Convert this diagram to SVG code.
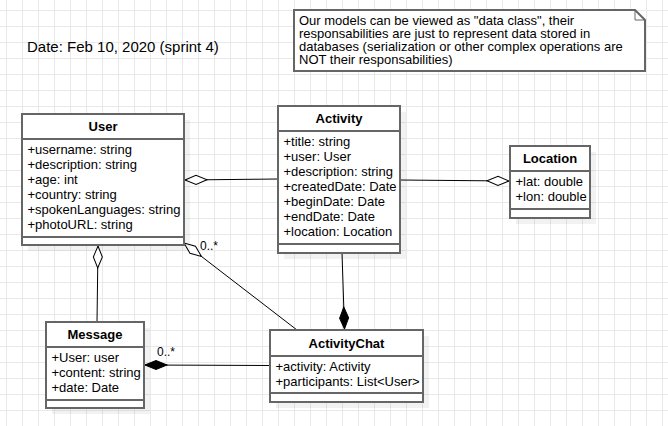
<svg xmlns="http://www.w3.org/2000/svg" width="668" height="426" viewBox="0 0 668 426">
<style>
.box{fill:#fff;stroke:#666;stroke-width:2}
.sh{fill:#000;fill-opacity:0.05}
.div{stroke:#666;stroke-width:2;fill:none}
.t{font-family:"Liberation Sans",Arial,sans-serif;font-size:13px;fill:#000}
.h{font-family:"Liberation Sans",Arial,sans-serif;font-size:13px;font-weight:bold;fill:#000;text-anchor:middle}
.lbl{font-family:"Liberation Sans",Arial,sans-serif;font-size:12px;fill:#000}
.edge{stroke:#000;stroke-width:1;fill:none}
.agg{marker-start:url(#hollow)}
.comp{marker-start:url(#filled)}
</style>
<defs>
<pattern id="grid" x="6" y="10" width="16" height="16" patternUnits="userSpaceOnUse">
<path d="M0 0.5H16M0.5 0V16" stroke="#e9e9e9" stroke-width="1" fill="none"/>
</pattern>
<marker id="hollow" markerUnits="userSpaceOnUse" viewBox="-1 -1 24 12" refX="0" refY="5" markerWidth="24" markerHeight="12" orient="auto" overflow="visible">
<path d="M0,5 L11,0.5 L22,5 L11,9.5 Z" fill="#fff" stroke="#000" stroke-width="1"/>
</marker>
<marker id="filled" markerUnits="userSpaceOnUse" viewBox="-1 -1 24 12" refX="0" refY="5" markerWidth="24" markerHeight="12" orient="auto" overflow="visible">
<path d="M0,5 L11,0.5 L22,5 L11,9.5 Z" fill="#000" stroke="#000" stroke-width="1"/>
</marker>
</defs>
<rect width="668" height="426" fill="#fff"/>
<rect width="668" height="426" fill="url(#grid)"/>

<text class="t" x="27" y="51.5" style="font-size:15px">Date: Feb 10, 2020 (sprint 4)</text>

<g id="note">
<path d="M294,10 H635 L645,20 V71 H294 Z" class="box"/>
<path d="M635,10 V20 H645" class="div" style="stroke-width:1"/>
<text class="t" x="299" y="25">Our models can be viewed as "data class", their</text>
<text class="t" x="299" y="38">responsabilities are just to represent data stored in</text>
<text class="t" x="299" y="51">databases (serialization or other complex operations are</text>
<text class="t" x="299" y="64">NOT their responsabilities)</text>
</g>

<g id="connectors">
<path class="edge agg" d="M185,180 L278,179"/>
<path class="edge agg" d="M509,181 L400,180"/>
<path class="edge agg" d="M98,246 L97,322"/>
<path class="edge agg" d="M184,243 L297,330"/>
<path class="edge comp" d="M344.5,329 L342,253"/>
<path class="edge comp" d="M145,365 L270,365.5"/>
<text class="lbl" x="200" y="249.5">0..*</text>
<text class="lbl" x="157" y="356">0..*</text>
</g>

<g id="User">
<rect class="sh" x="28" y="120" width="162" height="131"/>
<rect class="box" x="22" y="114" width="162" height="131"/>
<path class="div" d="M22,139 H184 M22,237 H184"/>
<text class="h" x="103" y="131">User</text>
<text class="t" x="27.5" y="154">+username: string</text>
<text class="t" x="27.5" y="169">+description: string</text>
<text class="t" x="27.5" y="184">+age: int</text>
<text class="t" x="27.5" y="199">+country: string</text>
<text class="t" x="27.5" y="214">+spokenLanguages: string</text>
<text class="t" x="27.5" y="229">+photoURL: string</text>
</g>

<g id="Activity">
<rect class="sh" x="284" y="112" width="122" height="147"/>
<rect class="box" x="278" y="106" width="122" height="147"/>
<path class="div" d="M278,131 H400 M278,244 H400"/>
<text class="h" x="339" y="123">Activity</text>
<text class="t" x="283.5" y="146">+title: string</text>
<text class="t" x="283.5" y="161">+user: User</text>
<text class="t" x="283.5" y="176">+description: string</text>
<text class="t" x="283.5" y="191">+createdDate: Date</text>
<text class="t" x="283.5" y="206">+beginDate: Date</text>
<text class="t" x="283.5" y="221">+endDate: Date</text>
<text class="t" x="283.5" y="236">+location: Location</text>
</g>

<g id="Location">
<rect class="sh" x="516" y="152" width="80" height="72"/>
<rect class="box" x="510" y="146" width="80" height="72"/>
<path class="div" d="M510,171 H590 M510,209 H590"/>
<text class="h" x="550" y="163">Location</text>
<text class="t" x="515.5" y="186">+lat: double</text>
<text class="t" x="515.5" y="201">+lon: double</text>
</g>

<g id="Message">
<rect class="sh" x="52" y="328" width="98" height="86"/>
<rect class="box" x="46" y="322" width="98" height="86"/>
<path class="div" d="M46,347 H144 M46,400 H144"/>
<text class="h" x="95" y="339">Message</text>
<text class="t" x="51.5" y="362">+User: user</text>
<text class="t" x="51.5" y="377">+content: string</text>
<text class="t" x="51.5" y="392">+date: Date</text>
</g>

<g id="ActivityChat">
<rect class="sh" x="276" y="336" width="153" height="72"/>
<rect class="box" x="270" y="330" width="153" height="72"/>
<path class="div" d="M270,356 H423 M270,393 H423"/>
<text class="h" x="346.5" y="347.5">ActivityChat</text>
<text class="t" x="275.5" y="370.5">+activity: Activity</text>
<text class="t" x="275.5" y="385.5">+participants: List&lt;User&gt;</text>
</g>
</svg>
